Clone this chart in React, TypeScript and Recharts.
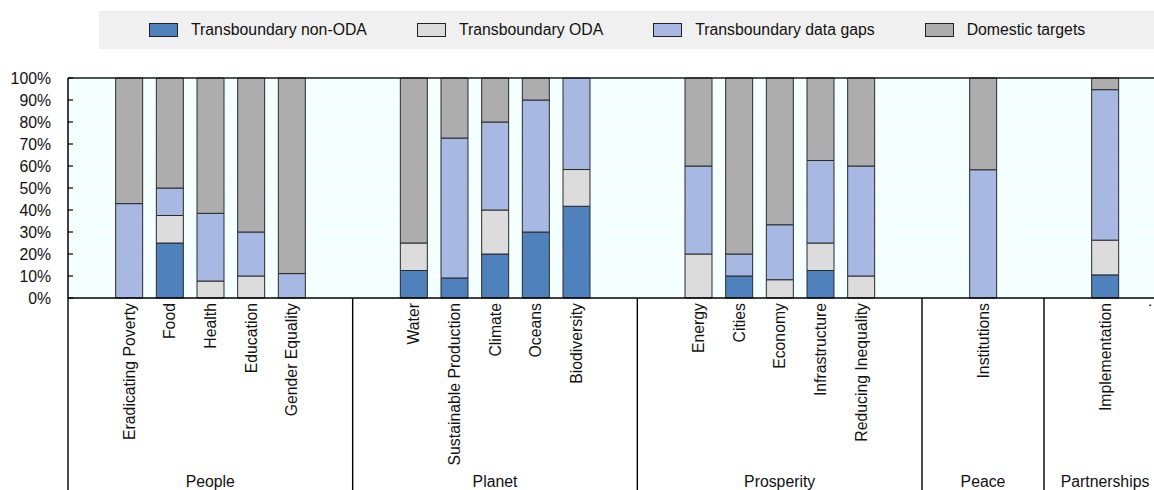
import React from 'react';
import { BarChart, Bar, XAxis, YAxis, CartesianGrid, Legend, ReferenceLine } from 'recharts';

const categories = [
  '', 'Eradicating Poverty', 'Food', 'Health', 'Education', 'Gender Equality', '',
  '', 'Water', 'Sustainable Production', 'Climate', 'Oceans', 'Biodiversity', '',
  '', 'Energy', 'Cities', 'Economy', 'Infrastructure', 'Reducing Inequality', '',
  '', 'Institutions', '',
  '', 'Implementation', '.',
];
const nonOda = [0, 0, 25, 0, 0, 0, 0, 0, 12.5, 9.1, 20, 30, 41.7, 0, 0, 0, 10, 0, 12.5, 0, 0, 0, 0, 0, 0, 10.5, 0];
const oda = [0, 0, 12.5, 7.7, 10, 0, 0, 0, 12.5, 0, 20, 0, 16.7, 0, 0, 20, 0, 8.3, 12.5, 10, 0, 0, 0, 0, 0, 15.8, 0];
const dataGaps = [0, 42.9, 12.5, 30.8, 20, 11.1, 0, 0, 0, 63.6, 40, 60, 41.6, 0, 0, 40, 10, 25, 37.5, 50, 0, 0, 58.3, 0, 0, 68.4, 0];
const domestic = [0, 57.1, 50, 61.5, 70, 88.9, 0, 0, 75, 27.3, 20, 10, 0, 0, 0, 40, 80, 66.7, 37.5, 40, 0, 0, 41.7, 0, 0, 5.3, 0];

const groupNames = ['People', 'Planet', 'Prosperity', 'Peace', 'Partnerships'];
const groupSizes = [7, 7, 7, 3, 3];
const yTicks = [0, 10, 20, 30, 40, 50, 60, 70, 80, 90, 100];

const seriesKeys = ['nonOda', 'oda', 'gaps', 'domestic'];
const seriesNames = ['Transboundary non-ODA', 'Transboundary ODA', 'Transboundary data gaps', 'Domestic targets'];
const seriesColors = ['#4F81BD', '#DCDCDC', '#A7B9E3', '#ADADAD'];

const data = categories.map((c, i) => ({
  key: 'k' + i,
  label: c,
  nonOda: nonOda[i],
  oda: oda[i],
  gaps: dataGaps[i],
  domestic: domestic[i],
}));

const groupCenter: Record<number, string> = {};
const groupEnd = new Set<number>();
{
  let start = 0;
  groupSizes.forEach((s, g) => {
    groupCenter[start + Math.floor(s / 2)] = groupNames[g];
    groupEnd.add(start + s - 1);
    start += s;
  });
}

const FONT = '"Liberation Sans", Arial, sans-serif';
const FS = 15.8;
const TXT = '#111';

function XTick(props: any) {
  const { x, y, index, payload, width } = props;
  let half = 20.3;
  if (payload && typeof payload.offset === 'number' && payload.offset > 0) half = payload.offset;
  else if (typeof width === 'number' && width > 0) half = width / categories.length / 2;
  const label = categories[index] ?? '';
  const group = groupCenter[index];
  return (
    <g>
      {index === 0 && <line x1={x - half} x2={x - half} y1={y} y2={y + 220} stroke="#000" strokeWidth={1.4} />}
      {groupEnd.has(index) && <line x1={x + half} x2={x + half} y1={y} y2={y + 220} stroke="#000" strokeWidth={1.4} />}
      {label && (
        <text
          x={x}
          y={y + 5}
          transform={`rotate(-90, ${x}, ${y + 5})`}
          textAnchor="end"
          dominantBaseline="central"
          fontFamily={FONT}
          fontSize={FS}
          fill={TXT}
        >
          {label}
        </text>
      )}
      {group && (
        <text x={x} y={y + 189} textAnchor="middle" fontFamily={FONT} fontSize={FS} fill={TXT}>
          {group}
        </text>
      )}
    </g>
  );
}

function YTick(props: any) {
  const { x, y, payload } = props;
  return (
    <g>
      <line x1={x} x2={x + 5} y1={y} y2={y} stroke="#000" strokeWidth={1.2} />
      <text x={x - 17} y={y} textAnchor="end" dominantBaseline="central" fontFamily={FONT} fontSize={FS} fill={TXT}>
        {payload.value + '%'}
      </text>
    </g>
  );
}

function LegendContent() {
  return (
    <div
      style={{
        display: 'flex',
        alignItems: 'center',
        height: 38,
        background: '#F0F0F0',
        paddingLeft: 50,
        boxSizing: 'border-box',
        fontFamily: FONT,
        fontSize: FS,
        color: TXT,
      }}
    >
      {seriesNames.map((n, i) => (
        <div key={n} style={{ display: 'flex', alignItems: 'center', marginRight: 50 }}>
          <div
            style={{
              width: 27,
              height: 12,
              background: seriesColors[i],
              border: '1px solid #222',
              marginRight: 13,
            }}
          />
          <span>{n}</span>
        </div>
      ))}
    </div>
  );
}

function verticalGen(props: any): number[] {
  try {
    const s = props.xAxis.scale;
    const bw = s.bandwidth ? s.bandwidth() : 0;
    const out: number[] = [];
    data.forEach((d) => {
      const v = s(d.key);
      if (typeof v === 'number') out.push(v);
    });
    if (out.length) out.push(out[out.length - 1] + bw);
    return out;
  } catch (e) {
    return [];
  }
}

export default function App() {
  return (
    <div style={{ position: 'absolute', left: 0, top: 0, width: 1154, height: 490, overflow: 'hidden', background: '#fff' }}>
      <BarChart
        width={1166}
        height={490}
        data={data}
        margin={{ top: 40, right: 0, bottom: 0, left: 0 }}
        barSize={27}
      >
        <Legend
          verticalAlign="top"
          content={<LegendContent />}
          wrapperStyle={{ position: 'absolute', top: 11, left: 99, width: 1067, height: 38 }}
        />
        <CartesianGrid fill="#F4FFFF" stroke="#FFFFFF" strokeWidth={1.5} verticalCoordinatesGenerator={verticalGen} />
        <XAxis
          dataKey="key"
          interval={0}
          height={192}
          tickSize={0}
          tickMargin={0}
          tickLine={false}
          axisLine={{ stroke: '#000', strokeWidth: 1.5 }}
          tick={<XTick />}
        />
        <YAxis
          width={68}
          domain={[0, 100]}
          ticks={yTicks}
          interval={0}
          tickSize={0}
          tickMargin={0}
          tickLine={false}
          axisLine={{ stroke: '#000', strokeWidth: 1.5 }}
          tick={<YTick />}
        />
        <ReferenceLine y={100} stroke="#1a1a1a" strokeWidth={1.5} />
        {seriesKeys.map((k, i) => (
          <Bar
            key={k}
            dataKey={k}
            name={seriesNames[i]}
            stackId="a"
            fill={seriesColors[i]}
            stroke="#2a2a2a"
            strokeWidth={1}
            isAnimationActive={false}
          />
        ))}
      </BarChart>
    </div>
  );
}
